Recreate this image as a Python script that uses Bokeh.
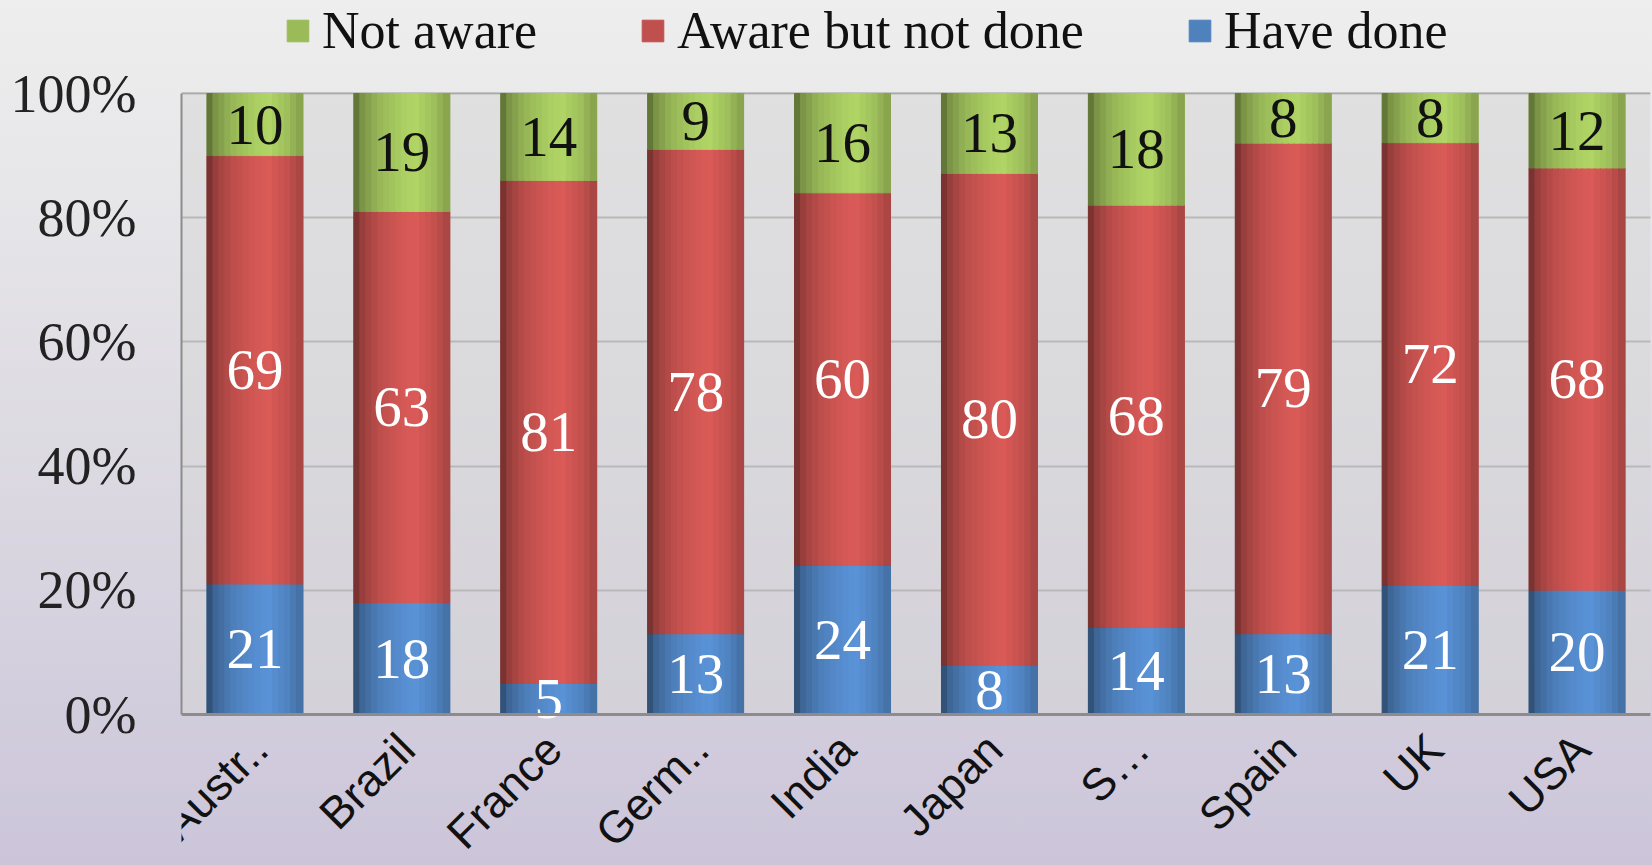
import numpy as np
from math import pi
from bokeh.plotting import figure
from bokeh.models import (ColumnDataSource, Range1d, Legend, LegendItem, LabelSet,
                          NumeralTickFormatter, FixedTicker, Span, BoxAnnotation)
from bokeh.core.properties import value
from bokeh.embed import file_html
from bokeh.resources import INLINE

# ---------------- data ----------------
countries = ["Austr..", "Brazil", "France", "Germ..", "India", "Japan", "S…", "Spain", "UK", "USA"]
have_done = [21, 18, 5, 13, 24, 8, 14, 13, 21, 20]
aware_not_done = [69, 63, 81, 78, 60, 80, 68, 79, 72, 68]
not_aware = [10, 19, 14, 9, 16, 13, 18, 8, 8, 12]
series_names = ["Have done", "Aware but not done", "Not aware"]
y_ticks = [0, 0.2, 0.4, 0.6, 0.8, 1.0]

# ---------------- derived (100% stacking) ----------------
n = len(countries)
xpos = np.arange(n) + 0.5
hd = np.array(have_done, float)
an = np.array(aware_not_done, float)
na = np.array(not_aware, float)
tot = hd + an + na
s_vals = [hd / tot, an / tot, na / tot]
bottoms, tops = [], []
acc = np.zeros(n)
for s in s_vals:
    bottoms.append(acc.copy())
    acc = acc + s
    tops.append(acc.copy())

data = dict(x=xpos, country=countries)
for i in range(3):
    data[f"b{i}"] = bottoms[i]
    data[f"t{i}"] = tops[i]
src = ColumnDataSource(data)

base_rgb = [(79, 129, 189), (192, 80, 77), (155, 187, 89)]

def hexc(rgb, f):
    return "#%02x%02x%02x" % tuple(int(max(0, min(255, c * f))) for c in rgb)

# ---------------- layout ----------------
W, H = 1652, 865
FL, FW = 181, 1469          # frame left / width (px)
Y0, Y1 = 714, 93            # screen y of 0% and 100%
unit = Y0 - Y1
ymin = -(H - Y0) / unit
ymax = 1 + Y1 / unit

p = figure(x_range=Range1d(0, n), y_range=Range1d(ymin, ymax),
           width=W, height=H, output_backend="svg", toolbar_location=None,
           x_axis_location=None,
           min_border_left=FL, min_border_right=W - FL - FW, min_border_top=0, min_border_bottom=0)

p.border_fill_color = None
p.styles = {"background": "linear-gradient(180deg, #eeeeee 0%, #dddbe2 50%, #ccc5da 100%)"}
p.background_fill_color = None
p.outline_line_color = None
p.xgrid.visible = False

# plot-area tint
p.add_layout(BoxAnnotation(bottom=0, top=1, fill_color="#d6d6d6", fill_alpha=0.5,
                           line_color=None, level="underlay"))

# y axis
p.yaxis.ticker = FixedTicker(ticks=y_ticks)
p.yaxis.bounds = (0, 1)
p.yaxis.formatter = NumeralTickFormatter(format="0%")
p.yaxis.major_label_text_font = "Liberation Serif"
p.yaxis.major_label_text_font_size = "54px"
p.yaxis.major_label_text_color = "#222222"
p.yaxis.major_label_standoff = 45
p.yaxis.major_tick_out = 0
p.yaxis.major_tick_in = 0
p.yaxis.minor_tick_line_color = None
p.yaxis.axis_line_color = "#8c8c8c"
p.yaxis.axis_line_width = 2
p.ygrid.grid_line_color = "#9c9c9c"
p.ygrid.grid_line_width = 2
p.ygrid.ticker = FixedTicker(ticks=y_ticks)

bar_w = 0.65
base_renderers = []
for i in range(3):
    r = p.vbar(x="x", bottom=f"b{i}", top=f"t{i}", width=bar_w,
               color=hexc(base_rgb[i], 1.0), source=src)
    base_renderers.append(r)

# cylinder-like shading strips
NS = 16
prof_t = [0, 0.08, 0.25, 0.5, 0.65, 0.85, 1.0]
prof_f = [0.55, 0.78, 0.97, 1.10, 1.14, 1.02, 0.85]
for k in range(NS):
    t = (k + 0.5) / NS
    off = -bar_w / 2 + (k + 0.5) * bar_w / NS
    f = float(np.interp(t, prof_t, prof_f))
    ssrc = ColumnDataSource(dict(x=xpos + off, **{f"b{i}": bottoms[i] for i in range(3)},
                                 **{f"t{i}": tops[i] for i in range(3)}))
    for i in range(3):
        p.vbar(x="x", bottom=f"b{i}", top=f"t{i}",
               width=bar_w / NS * 1.08, color=hexc(base_rgb[i], f), source=ssrc)

# bottom axis line
p.add_layout(Span(location=0, dimension="width", line_color="#8c8c8c", line_width=3))

# value labels
lab_x, lab_y, lab_t, lab_c = [], [], [], []
raw = [have_done, aware_not_done, not_aware]
txt_colors = ["#ffffff", "#ffffff", "#111111"]
for i in range(3):
    for j in range(n):
        lab_x.append(xpos[j])
        lab_y.append((bottoms[i][j] + tops[i][j]) / 2)
        lab_t.append(str(raw[i][j]))
        lab_c.append(txt_colors[i])
lsrc = ColumnDataSource(dict(x=lab_x, y=lab_y, text=lab_t, color=lab_c))
p.text(x="x", y="y", text="text", text_color="color", text_align="center",
       text_baseline="middle", text_font=value("Liberation Serif"),
       text_font_size="57px", source=lsrc)

# category labels (rotated, under the axis)
csrc = ColumnDataSource(dict(x=xpos, y=np.zeros(n), text=countries))
p.add_layout(LabelSet(x="x", y="y", text="text", source=csrc, angle=pi / 4,
                      x_offset=5, y_offset=-27, text_align="right", text_baseline="middle",
                      text_font=value("Liberation Sans"), text_font_size="45px",
                      text_color="#111111"))

legend = Legend(items=[LegendItem(label=series_names[2], renderers=[base_renderers[2]]),
                       LegendItem(label=series_names[1], renderers=[base_renderers[1]]),
                       LegendItem(label=series_names[0], renderers=[base_renderers[0]])],
                orientation="horizontal", location=(103, 805),
                glyph_width=27, glyph_height=27, label_standoff=11, spacing=102,
                padding=0, margin=0, background_fill_alpha=0, border_line_alpha=0,
                label_text_font="Liberation Serif", label_text_font_size="52px",
                label_text_color="#111111")
p.add_layout(legend, "center")

open("out.html", "w").write(file_html(p, INLINE))
